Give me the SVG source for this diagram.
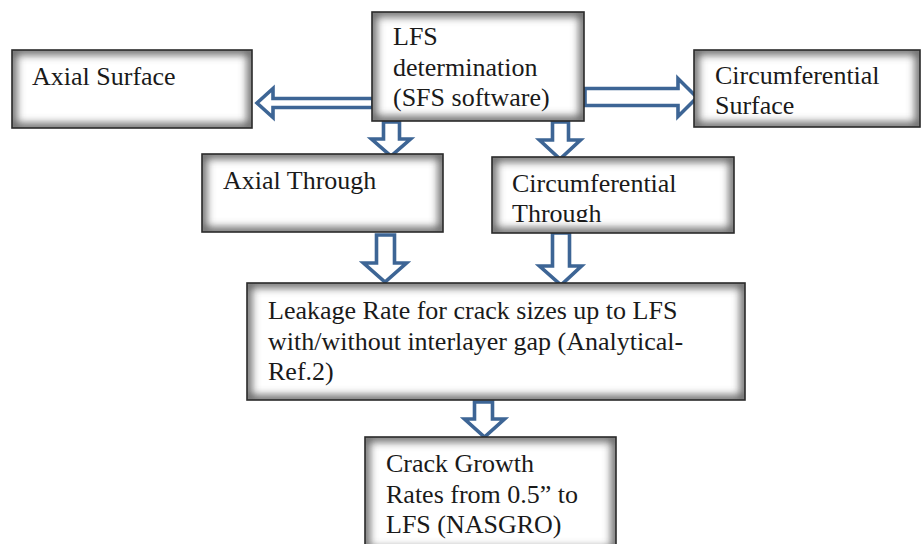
<svg xmlns="http://www.w3.org/2000/svg" width="922" height="544" viewBox="0 0 922 544">
<defs>
<style>
.box{fill:#fff}
.bord{fill:none;stroke:#2a2a2a;stroke-width:1.6}
.t{font-family:"Liberation Serif","Times New Roman",serif;font-size:26px;fill:#1a1a1a}
.arr{fill:#fff;stroke:#3d6595;stroke-width:3.6;stroke-linejoin:miter}
.sh{fill:none;stroke:#5a5a5a;stroke-width:9}
</style>
<filter id="blur" x="-10%" y="-20%" width="120%" height="140%">
<feGaussianBlur stdDeviation="4.5"/>
</filter>
<clipPath id="c1"><rect x="372" y="12" width="212" height="109"/></clipPath>
<clipPath id="c2"><rect x="12" y="50" width="240" height="78"/></clipPath>
<clipPath id="c3"><rect x="694" y="50" width="226" height="77"/></clipPath>
<clipPath id="c4"><rect x="202" y="154" width="241" height="78"/></clipPath>
<clipPath id="c5"><rect x="492" y="157" width="242" height="76"/></clipPath>
<clipPath id="c6"><rect x="247" y="283" width="498" height="117"/></clipPath>
<clipPath id="c7"><rect x="365" y="437" width="251" height="115"/></clipPath>
<clipPath id="ctclip"><rect x="492" y="157" width="242" height="65"/></clipPath>
</defs>
<rect width="922" height="544" fill="#fff"/>

<g id="connectors">
<path class="arr" d="M373,98.5 H273 V88.5 L257,103 L273,117.5 V107.5 H373 Z"/>
<path class="arr" d="M585,88.5 H678 V78.5 L697,97.5 L678,116.5 V105.5 H585 Z"/>
<path class="arr" d="M383.5,122 V139 H371.5 L391,156 L410.5,139 H399.5 V122 Z"/>
<path class="arr" d="M552.5,122 V140 H539.5 L560,159 L580.5,140 H568.5 V122 Z"/>
<path class="arr" d="M376.5,235 V263 H363.5 L385,282 L406.5,263 H394.5 V235 Z"/>
<path class="arr" d="M552.5,233 V266 H539.5 L561,285 L581.5,266 H569.5 V233 Z"/>
<path class="arr" d="M474.5,402 V419 H464.5 L484.5,437 L504.5,419 H492.5 V402 Z"/>
</g>

<g id="n_lfs">
<rect class="box" x="372" y="12" width="212" height="109"/>
<g clip-path="url(#c1)"><rect class="sh" x="372" y="12" width="212" height="109" filter="url(#blur)"/></g>
<rect class="bord" x="372" y="12" width="212" height="109"/>
<text class="t" x="393" y="45">LFS</text>
<text class="t" x="393" y="76">determination</text>
<text class="t" x="393" y="106">(SFS software)</text>
</g>

<g id="n_axial_surface">
<rect class="box" x="12" y="50" width="240" height="78"/>
<g clip-path="url(#c2)"><rect class="sh" x="12" y="50" width="240" height="78" filter="url(#blur)"/></g>
<rect class="bord" x="12" y="50" width="240" height="78"/>
<text class="t" x="32" y="85">Axial Surface</text>
</g>

<g id="n_circ_surface">
<rect class="box" x="694" y="50" width="226" height="77"/>
<g clip-path="url(#c3)"><rect class="sh" x="694" y="50" width="226" height="77" filter="url(#blur)"/></g>
<rect class="bord" x="694" y="50" width="226" height="77"/>
<text class="t" x="715" y="84">Circumferential</text>
<text class="t" x="715" y="114">Surface</text>
</g>

<g id="n_axial_through">
<rect class="box" x="202" y="154" width="241" height="78"/>
<g clip-path="url(#c4)"><rect class="sh" x="202" y="154" width="241" height="78" filter="url(#blur)"/></g>
<rect class="bord" x="202" y="154" width="241" height="78"/>
<text class="t" x="223" y="189">Axial Through</text>
</g>

<g id="n_circ_through">
<rect class="box" x="492" y="157" width="242" height="76"/>
<g clip-path="url(#c5)"><rect class="sh" x="492" y="157" width="242" height="76" filter="url(#blur)"/></g>
<rect class="bord" x="492" y="157" width="242" height="76"/>
<g clip-path="url(#ctclip)">
<text class="t" x="512" y="192">Circumferential</text>
<text class="t" x="512" y="222">Through</text>
</g>
</g>

<g id="n_leakage">
<rect class="box" x="247" y="283" width="498" height="117"/>
<g clip-path="url(#c6)"><rect class="sh" x="247" y="283" width="498" height="117" filter="url(#blur)"/></g>
<rect class="bord" x="247" y="283" width="498" height="117"/>
<text class="t" x="268" y="319">Leakage Rate for crack sizes up to LFS</text>
<text class="t" x="268" y="350">with/without interlayer gap (Analytical-</text>
<text class="t" x="268" y="380">Ref.2)</text>
</g>

<g id="n_crack">
<rect class="box" x="365" y="437" width="251" height="115"/>
<g clip-path="url(#c7)"><rect class="sh" x="365" y="437" width="251" height="115" filter="url(#blur)"/></g>
<rect class="bord" x="365" y="437" width="251" height="115"/>
<text class="t" x="386" y="472">Crack Growth</text>
<text class="t" x="386" y="503">Rates from 0.5” to</text>
<text class="t" x="386" y="533">LFS (NASGRO)</text>
</g>
</svg>
